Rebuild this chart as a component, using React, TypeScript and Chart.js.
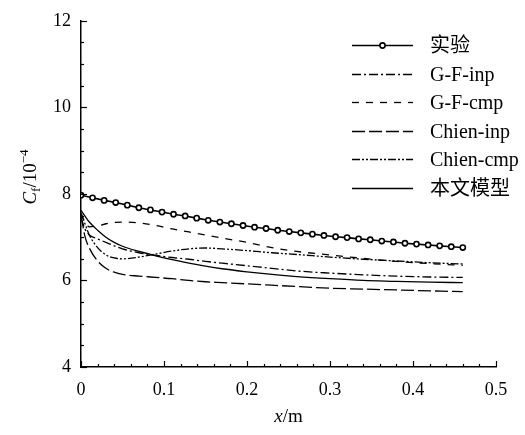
import React, { useEffect, useRef } from 'react';
import { Chart, registerables } from 'chart.js';

Chart.register(...registerables);

// ---------- data ----------
const expX = [0, 0.0139, 0.0279, 0.0418, 0.0558, 0.0697, 0.0836, 0.0976, 0.1115, 0.1255, 0.1394, 0.1533, 0.1673, 0.1812, 0.1952, 0.2091, 0.223, 0.237, 0.2509, 0.2648, 0.2788, 0.2927, 0.3067, 0.3206, 0.3345, 0.3485, 0.3624, 0.3764, 0.3903, 0.4042, 0.4182, 0.4321, 0.4461, 0.46];
const expY = [7.97, 7.91, 7.85, 7.8, 7.74, 7.68, 7.63, 7.58, 7.53, 7.49, 7.44, 7.39, 7.35, 7.31, 7.27, 7.23, 7.2, 7.16, 7.13, 7.1, 7.07, 7.04, 7.01, 6.99, 6.96, 6.94, 6.91, 6.89, 6.86, 6.84, 6.82, 6.8, 6.78, 6.76];

const modelX = [0, 0.005, 0.01, 0.02, 0.03, 0.04, 0.05, 0.07, 0.09, 0.11, 0.13, 0.15, 0.17, 0.2, 0.23, 0.26, 0.3, 0.34, 0.38, 0.42, 0.46];
const gfInp = [7.45, 7.18, 7.05, 6.96, 6.88, 6.8, 6.73, 6.64, 6.58, 6.53, 6.49, 6.44, 6.4, 6.34, 6.28, 6.22, 6.17, 6.13, 6.1, 6.08, 6.07];
const gfCmp = [7.55, 7.35, 7.24, 7.26, 7.31, 7.34, 7.35, 7.33, 7.27, 7.19, 7.12, 7.05, 6.98, 6.88, 6.76, 6.67, 6.59, 6.51, 6.44, 6.39, 6.35];
const chienInp = [7.5, 7.0, 6.75, 6.45, 6.28, 6.19, 6.14, 6.1, 6.07, 6.04, 6.0, 5.97, 5.95, 5.92, 5.89, 5.86, 5.82, 5.8, 5.78, 5.76, 5.74];
const chienCmp = [7.55, 7.3, 7.05, 6.76, 6.59, 6.52, 6.5, 6.54, 6.61, 6.68, 6.73, 6.75, 6.73, 6.69, 6.64, 6.6, 6.54, 6.49, 6.45, 6.41, 6.38];
const thisModel = [7.62, 7.48, 7.35, 7.16, 7.0, 6.88, 6.79, 6.67, 6.57, 6.48, 6.4, 6.33, 6.27, 6.2, 6.14, 6.09, 6.04, 6.0, 5.98, 5.96, 5.95];

const seriesNames = ['实验', 'G-F-inp', 'G-F-cmp', 'Chien-inp', 'Chien-cmp', '本文模型'];
const xTickLabels = ['0', '0.1', '0.2', '0.3', '0.4', '0.5'];
const yTickLabels = ['4', '6', '8', '10', '12'];

const SERIF = '"Liberation Serif", "Times New Roman", "Noto Sans CJK SC", serif';

const toPts = (xs: number[], ys: number[]) => xs.map((x, i) => ({ x, y: ys[i] }));

const decorPlugin = {
  id: 'decor',
  afterDraw(chart: any) {
    const ctx = chart.ctx as CanvasRenderingContext2D;
    const xs = chart.scales.x;
    const ys = chart.scales.y;
    const area = chart.chartArea;
    ctx.save();
    ctx.strokeStyle = '#000';
    ctx.lineWidth = 1.2;
    // inward x ticks
    for (let i = 0; i <= 25; i++) {
      const px = Math.round(xs.getPixelForValue(i * 0.02)) + 0.5;
      const len = i % 5 === 0 ? 6 : 3;
      ctx.beginPath();
      ctx.moveTo(px, area.bottom);
      ctx.lineTo(px, area.bottom - len);
      ctx.stroke();
    }
    // inward y ticks
    for (let i = 0; i <= 16; i++) {
      const py = Math.round(ys.getPixelForValue(4 + i * 0.5)) + 0.5;
      const len = i % 4 === 0 ? 6 : 3;
      ctx.beginPath();
      ctx.moveTo(area.left, py);
      ctx.lineTo(area.left + len, py);
      ctx.stroke();
    }

    // legend
    const rowY0 = 45;
    const rowStep = 28.5;
    const lx0 = 352;
    const lx1 = 413;
    const tx = 430;
    chart.data.datasets.forEach((ds: any, i: number) => {
      const y = Math.round(rowY0 + i * rowStep) + 0.5;
      ctx.save();
      ctx.strokeStyle = '#000';
      ctx.lineWidth = ds.borderWidth;
      ctx.setLineDash(ds.borderDash || []);
      ctx.beginPath();
      ctx.moveTo(lx0, y);
      ctx.lineTo(lx1, y);
      ctx.stroke();
      ctx.setLineDash([]);
      if (ds.pointRadius > 0) {
        ctx.beginPath();
        ctx.arc((lx0 + lx1) / 2, y, ds.pointRadius, 0, Math.PI * 2);
        ctx.fillStyle = ds.pointBackgroundColor;
        ctx.fill();
        ctx.lineWidth = ds.pointBorderWidth;
        ctx.stroke();
      }
      ctx.fillStyle = '#000';
      ctx.font = `20px ${SERIF}`;
      ctx.textBaseline = 'middle';
      ctx.textAlign = 'left';
      ctx.fillText(seriesNames[i], tx, y + 1);
      ctx.restore();
    });

    // x axis title: x/m
    ctx.fillStyle = '#000';
    ctx.textBaseline = 'alphabetic';
    ctx.textAlign = 'left';
    const xTitleY = 422;
    ctx.font = `italic 19px ${SERIF}`;
    const wX = ctx.measureText('x').width;
    ctx.font = `19px ${SERIF}`;
    const wM = ctx.measureText('/m').width;
    const cx = (area.left + area.right) / 2;
    const sx = cx - (wX + wM) / 2;
    ctx.font = `italic 19px ${SERIF}`;
    ctx.fillText('x', sx, xTitleY);
    ctx.font = `19px ${SERIF}`;
    ctx.fillText('/m', sx + wX, xTitleY);

    // y axis title: Cf/10^-4 rotated
    ctx.save();
    ctx.translate(36, 177);
    ctx.rotate(-Math.PI / 2);
    const parts = [
      { t: 'C', f: `italic 19px ${SERIF}`, dy: 0 },
      { t: 'f', f: `13px ${SERIF}`, dy: 4 },
      { t: '/10', f: `19px ${SERIF}`, dy: 0 },
      { t: '\u22124', f: `13px ${SERIF}`, dy: -8 },
    ];
    let total = 0;
    const widths = parts.map((p) => {
      ctx.font = p.f;
      const w = ctx.measureText(p.t).width;
      total += w;
      return w;
    });
    let px = -total / 2;
    parts.forEach((p, i) => {
      ctx.font = p.f;
      ctx.fillText(p.t, px, p.dy);
      px += widths[i];
    });
    ctx.restore();

    ctx.restore();
  },
};

export default function App() {
  const ref = useRef<HTMLCanvasElement | null>(null);

  useEffect(() => {
    if (!ref.current) return;
    const lineBase = {
      borderColor: '#000',
      backgroundColor: '#000',
      borderWidth: 1.3,
      pointRadius: 0,
      fill: false,
      cubicInterpolationMode: 'monotone' as const,
    };
    const chart = new Chart(ref.current, {
      type: 'line',
      data: {
        datasets: [
          {
            ...lineBase,
            label: seriesNames[0],
            data: toPts(expX, expY),
            borderWidth: 1.6,
            pointRadius: 2.6,
            pointBackgroundColor: '#fff',
            pointBorderColor: '#000',
            pointBorderWidth: 1.6,
            cubicInterpolationMode: 'default' as const,
          },
          { ...lineBase, label: seriesNames[1], data: toPts(modelX, gfInp), borderDash: [9, 3, 2, 3] },
          { ...lineBase, label: seriesNames[2], data: toPts(modelX, gfCmp), borderDash: [7, 7] },
          { ...lineBase, label: seriesNames[3], data: toPts(modelX, chienInp), borderDash: [13, 4] },
          { ...lineBase, label: seriesNames[4], data: toPts(modelX, chienCmp), borderDash: [8, 2, 2, 2, 2, 2] },
          { ...lineBase, label: seriesNames[5], data: toPts(modelX, thisModel) },
        ],
      },
      options: {
        responsive: false,
        animation: false,
        layout: { padding: { left: 0, top: 15, right: 29, bottom: 0 } },
        plugins: { legend: { display: false }, tooltip: { enabled: false } },
        scales: {
          x: {
            type: 'linear',
            min: 0,
            max: 0.5,
            grid: { display: false, drawTicks: false },
            border: { display: true, color: '#000', width: 1.5 },
            ticks: {
              stepSize: 0.1,
              padding: 12,
              color: '#000',
              font: { family: SERIF, size: 18 },
              maxRotation: 0,
              callback: (_v: any, i: number) => xTickLabels[i],
            },
            afterFit: (s: any) => {
              s.height = 68;
            },
          },
          y: {
            type: 'linear',
            min: 4,
            max: 12,
            grid: { display: false, drawTicks: false },
            border: { display: true, color: '#000', width: 1.5 },
            ticks: {
              stepSize: 2,
              padding: 10,
              color: '#000',
              font: { family: SERIF, size: 18 },
              callback: (_v: any, i: number) => yTickLabels[i],
            },
            afterFit: (s: any) => {
              s.width = 81;
            },
          },
        },
      },
      plugins: [decorPlugin],
    });
    return () => chart.destroy();
  }, []);

  return (
    <div style={{ position: 'absolute', left: 0, top: 0, width: 525, height: 435, background: '#fff' }}>
      <canvas ref={ref} width={525} height={435} />
    </div>
  );
}
